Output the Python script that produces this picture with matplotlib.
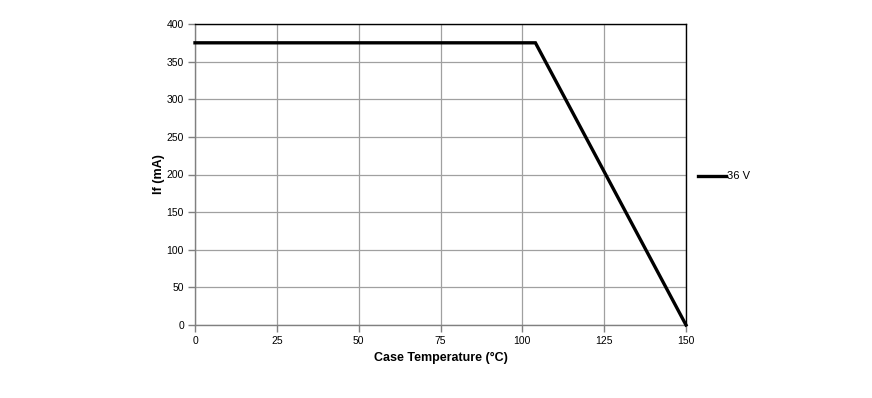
import matplotlib
matplotlib.use("Agg")
import matplotlib.pyplot as plt

temps = [0, 104, 150]
current_36v = [375, 375, 0]
series_label = "36 V"
x_ticks = [0, 25, 50, 75, 100, 125, 150]
y_ticks = [0, 50, 100, 150, 200, 250, 300, 350, 400]

plt.rcParams['font.family'] = ['Liberation Sans', 'DejaVu Sans']

fig = plt.figure(figsize=(8.72, 3.98), dpi=100)
ax = fig.add_axes([195/872, 1-325/398, (686-195)/872, (325-24)/398])

ax.plot(temps, current_36v, color='black', lw=2.4, solid_joinstyle='miter', clip_on=False, zorder=5)

ax.set_xlim(0, 150)
ax.set_ylim(0, 400)
ax.set_xticks(x_ticks)
ax.set_yticks(y_ticks)
ax.grid(True, color='#a0a0a0', lw=0.9)
ax.set_axisbelow(True)
for s in ['left', 'bottom']:
    ax.spines[s].set_color('#808080')
    ax.spines[s].set_linewidth(1.0)
for s in ['top', 'right']:
    ax.spines[s].set_color('black')
    ax.spines[s].set_linewidth(1.0)
ax.tick_params(axis='both', direction='out', length=5, width=1.0, color='#808080', labelsize=7.5, pad=3)
ax.set_xlabel('Case Temperature (°C)', fontsize=9, fontweight='bold', labelpad=4)
ax.set_ylabel('If (mA)', fontsize=9, fontweight='bold', labelpad=1)

# legend drawn at right
fig.lines.append(plt.Line2D([698/872, 726/872], [1-176/398, 1-176/398], transform=fig.transFigure, color='black', lw=2.4))
fig.text(727/872, 1-176/398, series_label, fontsize=8, va='center', ha='left')

fig.savefig('out.png', dpi=100)
